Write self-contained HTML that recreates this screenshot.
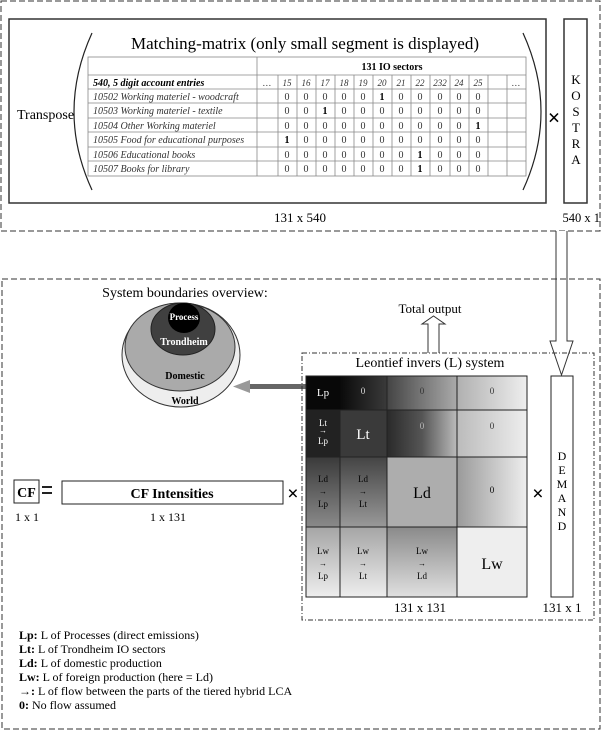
<!DOCTYPE html>
<html><head><meta charset="utf-8"><style>
body{margin:0;background:#fff}
svg text{font-family:"Liberation Serif",serif}
</style></head><body>
<svg width="602" height="732" viewBox="0 0 602 732" xmlns="http://www.w3.org/2000/svg">
<defs>
<linearGradient id="r0c1" x1="0" x2="1"><stop offset="0" stop-color="#0a0a0a"/><stop offset="1" stop-color="#3a3a3a"/></linearGradient>
<linearGradient id="r0c2" x1="0" x2="1"><stop offset="0" stop-color="#444"/><stop offset="1" stop-color="#aaa"/></linearGradient>
<linearGradient id="r0c3" x1="0" x2="1"><stop offset="0" stop-color="#b0b0b0"/><stop offset="1" stop-color="#eee"/></linearGradient>
<linearGradient id="r1c2" x1="0" x2="1"><stop offset="0" stop-color="#2a2a2a"/><stop offset="0.5" stop-color="#555"/><stop offset="1" stop-color="#bbb"/></linearGradient>
<linearGradient id="r1c3" x1="0" x2="1"><stop offset="0" stop-color="#bbb"/><stop offset="1" stop-color="#eee"/></linearGradient>
<linearGradient id="r2c0" x1="0" y1="0" x2="0" y2="1"><stop offset="0" stop-color="#3a3a3a"/><stop offset="1" stop-color="#8a8a8a"/></linearGradient>
<linearGradient id="r2c1" x1="0" y1="0" x2="0" y2="1"><stop offset="0" stop-color="#444"/><stop offset="1" stop-color="#999"/></linearGradient>
<linearGradient id="r2c3" x1="0" x2="1"><stop offset="0" stop-color="#9a9a9a"/><stop offset="1" stop-color="#eee"/></linearGradient>
<linearGradient id="r3c0" x1="0" y1="0" x2="0" y2="1"><stop offset="0" stop-color="#a5a5a5"/><stop offset="1" stop-color="#eee"/></linearGradient>
<linearGradient id="r3c2" x1="0" y1="0" x2="0" y2="1"><stop offset="0" stop-color="#8a8a8a"/><stop offset="1" stop-color="#e0e0e0"/></linearGradient>
</defs>

<rect x="1" y="1" width="599" height="230" fill="none" stroke="#333" stroke-dasharray="6,3"/>
<rect x="9" y="19" width="537" height="184" fill="none" stroke="#333" stroke-width="1.5"/>
<rect x="564" y="19" width="23" height="184" fill="none" stroke="#333" stroke-width="1.5"/>
<text x="305" y="49" font-size="17" text-anchor="middle">Matching-matrix (only small segment is displayed)</text>
<text x="17" y="119" font-size="14">Transpose</text>
<path d="M92,33 Q56,112 92,190" fill="none" stroke="#222" stroke-width="1.2"/>
<path d="M523,33 Q559,112 523,190" fill="none" stroke="#222" stroke-width="1.2"/>
<text x="554" y="125" font-size="22" text-anchor="middle" font-family="Liberation Sans" font-weight="bold">×</text>
<g font-size="13" text-anchor="middle">
<text x="576" y="84">K</text><text x="576" y="100">O</text><text x="576" y="116">S</text><text x="576" y="132">T</text><text x="576" y="148">R</text><text x="576" y="164">A</text>
</g>
<text x="300" y="222" font-size="13" text-anchor="middle">131 x 540</text>
<text x="600" y="222" font-size="12.5" text-anchor="end">540 x 1</text>

<g stroke="#888" stroke-width="0.8" fill="none">
<rect x="88" y="57" width="438" height="119"/>
<line x1="88" y1="75" x2="526" y2="75"/>
<line x1="88" y1="89" x2="526" y2="89"/>
<line x1="88" y1="103" x2="526" y2="103"/>
<line x1="88" y1="118" x2="526" y2="118"/>
<line x1="88" y1="132" x2="526" y2="132"/>
<line x1="88" y1="147" x2="526" y2="147"/>
<line x1="88" y1="161" x2="526" y2="161"/>
<line x1="257" y1="57" x2="257" y2="176"/>
<line x1="278" y1="75" x2="278" y2="176"/>
<line x1="297" y1="75" x2="297" y2="176"/>
<line x1="316" y1="75" x2="316" y2="176"/>
<line x1="335" y1="75" x2="335" y2="176"/>
<line x1="354" y1="75" x2="354" y2="176"/>
<line x1="373" y1="75" x2="373" y2="176"/>
<line x1="392" y1="75" x2="392" y2="176"/>
<line x1="411" y1="75" x2="411" y2="176"/>
<line x1="430" y1="75" x2="430" y2="176"/>
<line x1="450" y1="75" x2="450" y2="176"/>
<line x1="469" y1="75" x2="469" y2="176"/>
<line x1="488" y1="75" x2="488" y2="176"/>
<line x1="507" y1="75" x2="507" y2="176"/>
</g>
<text x="392" y="70" font-size="10" font-weight="bold" text-anchor="middle">131 IO sectors</text>
<g font-size="10" font-style="italic" fill="#333">
<text x="93" y="86" font-weight="bold" fill="#000">540, 5 digit account entries</text>
<text x="93" y="100">10502  Working materiel - woodcraft</text>
<text x="93" y="114">10503  Working materiel  - textile</text>
<text x="93" y="129">10504  Other Working materiel</text>
<text x="93" y="143">10505  Food for educational purposes</text>
<text x="93" y="158">10506  Educational books</text>
<text x="93" y="172">10507  Books for library</text>
</g>
<g font-size="9" font-style="italic" text-anchor="middle" fill="#333">
<text x="267" y="86">…</text><text x="287" y="86">15</text><text x="306" y="86">16</text><text x="325" y="86">17</text><text x="344" y="86">18</text><text x="363" y="86">19</text><text x="382" y="86">20</text><text x="401" y="86">21</text><text x="420" y="86">22</text><text x="440" y="86">232</text><text x="459" y="86">24</text><text x="478" y="86">25</text><text x="516" y="86">…</text>
</g>
<g font-size="10" text-anchor="middle" fill="#333">
<text x="287" y="100">0</text><text x="306" y="100">0</text><text x="325" y="100">0</text><text x="344" y="100">0</text><text x="363" y="100">0</text><text x="382" y="100" font-weight="bold" fill="#000">1</text><text x="401" y="100">0</text><text x="420" y="100">0</text><text x="440" y="100">0</text><text x="459" y="100">0</text><text x="478" y="100">0</text>
<text x="287" y="114">0</text><text x="306" y="114">0</text><text x="325" y="114" font-weight="bold" fill="#000">1</text><text x="344" y="114">0</text><text x="363" y="114">0</text><text x="382" y="114">0</text><text x="401" y="114">0</text><text x="420" y="114">0</text><text x="440" y="114">0</text><text x="459" y="114">0</text><text x="478" y="114">0</text>
<text x="287" y="129">0</text><text x="306" y="129">0</text><text x="325" y="129">0</text><text x="344" y="129">0</text><text x="363" y="129">0</text><text x="382" y="129">0</text><text x="401" y="129">0</text><text x="420" y="129">0</text><text x="440" y="129">0</text><text x="459" y="129">0</text><text x="478" y="129" font-weight="bold" fill="#000">1</text>
<text x="287" y="143" font-weight="bold" fill="#000">1</text><text x="306" y="143">0</text><text x="325" y="143">0</text><text x="344" y="143">0</text><text x="363" y="143">0</text><text x="382" y="143">0</text><text x="401" y="143">0</text><text x="420" y="143">0</text><text x="440" y="143">0</text><text x="459" y="143">0</text><text x="478" y="143">0</text>
<text x="287" y="158">0</text><text x="306" y="158">0</text><text x="325" y="158">0</text><text x="344" y="158">0</text><text x="363" y="158">0</text><text x="382" y="158">0</text><text x="401" y="158">0</text><text x="420" y="158" font-weight="bold" fill="#000">1</text><text x="440" y="158">0</text><text x="459" y="158">0</text><text x="478" y="158">0</text>
<text x="287" y="172">0</text><text x="306" y="172">0</text><text x="325" y="172">0</text><text x="344" y="172">0</text><text x="363" y="172">0</text><text x="382" y="172">0</text><text x="401" y="172">0</text><text x="420" y="172" font-weight="bold" fill="#000">1</text><text x="440" y="172">0</text><text x="459" y="172">0</text><text x="478" y="172">0</text>
</g>

<path d="M556,231 L556,341 L550,341 L561.5,375 L573,341 L567,341 L567,231" fill="#fff" stroke="#333" stroke-width="1"/>

<rect x="2" y="279" width="598" height="450" fill="none" stroke="#333" stroke-dasharray="6,3"/>
<text x="185" y="297" font-size="14" text-anchor="middle">System boundaries overview:</text>
<ellipse cx="181" cy="355" rx="59" ry="52" fill="#eee" stroke="#333"/>
<ellipse cx="180" cy="347" rx="55" ry="44" fill="#aaa" stroke="#333"/>
<ellipse cx="183" cy="329" rx="32" ry="26" fill="#404040" stroke="#222"/>
<ellipse cx="184" cy="318" rx="16" ry="15" fill="#000"/>
<g font-size="9" font-weight="bold" text-anchor="middle">
<text x="184" y="320" fill="#fff">Process</text>
<text x="184" y="345" fill="#fff" font-size="10">Trondheim</text>
<text x="185" y="379" font-size="10">Domestic</text>
<text x="185" y="404" font-size="10">World</text>
</g>
<rect x="246" y="384" width="62" height="5" fill="#666"/>
<path d="M233,386.5 L250,380 L250,393 Z" fill="#999"/>

<text x="430" y="313" font-size="13" text-anchor="middle">Total output</text>
<path d="M428,353 L428,324 L422,324 L433.5,316 L445,324 L439,324 L439,353" fill="#fff" stroke="#333"/>

<rect x="302" y="353" width="292" height="267" fill="none" stroke="#333" stroke-dasharray="5,2,1,2"/>
<text x="430" y="367" font-size="14" text-anchor="middle">Leontief invers (L) system</text>
<rect x="306" y="376" width="34" height="34" fill="#080808"/>
<rect x="340" y="376" width="47" height="34" fill="url(#r0c1)"/>
<rect x="387" y="376" width="70" height="34" fill="url(#r0c2)"/>
<rect x="457" y="376" width="70" height="34" fill="url(#r0c3)"/>
<rect x="306" y="410" width="34" height="47" fill="#222"/>
<rect x="340" y="410" width="47" height="47" fill="#3a3a3a"/>
<rect x="387" y="410" width="70" height="47" fill="url(#r1c2)"/>
<rect x="457" y="410" width="70" height="47" fill="url(#r1c3)"/>
<rect x="306" y="457" width="34" height="70" fill="url(#r2c0)"/>
<rect x="340" y="457" width="47" height="70" fill="url(#r2c1)"/>
<rect x="387" y="457" width="70" height="70" fill="#adadad"/>
<rect x="457" y="457" width="70" height="70" fill="url(#r2c3)"/>
<rect x="306" y="527" width="34" height="70" fill="url(#r3c0)"/>
<rect x="340" y="527" width="47" height="70" fill="url(#r3c0)"/>
<rect x="387" y="527" width="70" height="70" fill="url(#r3c2)"/>
<rect x="457" y="527" width="70" height="70" fill="#eee"/>
<g stroke="#222" stroke-width="1" fill="none">
<rect x="306" y="376" width="221" height="221"/>
<line x1="340" y1="410" x2="340" y2="597"/>
<line x1="387" y1="376" x2="387" y2="597"/>
<line x1="457" y1="376" x2="457" y2="597"/>
<line x1="306" y1="410" x2="527" y2="410"/>
<line x1="306" y1="457" x2="527" y2="457"/>
<line x1="306" y1="527" x2="527" y2="527"/>
</g>
<g text-anchor="middle">
<text x="323" y="396" font-size="11" fill="#fff">Lp</text>
<text x="363" y="394" font-size="9" fill="#ddd">0</text>
<text x="422" y="394" font-size="9" fill="#333">0</text>
<text x="492" y="394" font-size="9" fill="#333">0</text>
<text x="323" y="426" font-size="9" fill="#fff">Lt</text><text x="323" y="433" font-size="8" fill="#fff">→</text><text x="323" y="444" font-size="9" fill="#fff">Lp</text>
<text x="363" y="439" font-size="15" fill="#fff">Lt</text>
<text x="422" y="429" font-size="9" fill="#bbb">0</text>
<text x="492" y="429" font-size="9" fill="#333">0</text>
<text x="323" y="482" font-size="9">Ld</text><text x="323" y="494" font-size="8">→</text><text x="323" y="507" font-size="9">Lp</text>
<text x="363" y="482" font-size="9">Ld</text><text x="363" y="494" font-size="8">→</text><text x="363" y="507" font-size="9">Lt</text>
<text x="422" y="498" font-size="16">Ld</text>
<text x="492" y="493" font-size="9">0</text>
<text x="323" y="554" font-size="9">Lw</text><text x="323" y="566" font-size="8">→</text><text x="323" y="579" font-size="9">Lp</text>
<text x="363" y="554" font-size="9">Lw</text><text x="363" y="566" font-size="8">→</text><text x="363" y="579" font-size="9">Lt</text>
<text x="422" y="554" font-size="9">Lw</text><text x="422" y="566" font-size="8">→</text><text x="422" y="579" font-size="9">Ld</text>
<text x="492" y="569" font-size="16">Lw</text>
</g>
<rect x="551" y="376" width="22" height="221" fill="#fff" stroke="#222"/>
<g font-size="12" text-anchor="middle">
<text x="562" y="460">D</text><text x="562" y="474">E</text><text x="562" y="488">M</text><text x="562" y="502">A</text><text x="562" y="516">N</text><text x="562" y="530">D</text>
</g>
<text x="538" y="500" font-size="20" text-anchor="middle" font-family="Liberation Sans" font-weight="bold">×</text>
<text x="420" y="612" font-size="13" text-anchor="middle">131 x 131</text>
<text x="562" y="612" font-size="13" text-anchor="middle">131 x 1</text>

<rect x="14" y="480" width="25" height="23" fill="none" stroke="#222"/>
<text x="26.5" y="497" font-size="14" font-weight="bold" text-anchor="middle">CF</text>
<rect x="42" y="486" width="10" height="2" fill="#222"/><rect x="42" y="492" width="10" height="2" fill="#222"/>
<rect x="62" y="481" width="221" height="23" fill="none" stroke="#222"/>
<text x="172" y="498" font-size="14" font-weight="bold" text-anchor="middle">CF Intensities</text>
<text x="293" y="500" font-size="20" text-anchor="middle" font-family="Liberation Sans" font-weight="bold">×</text>
<text x="27" y="521" font-size="12" text-anchor="middle">1 x 1</text>
<text x="168" y="521" font-size="12" text-anchor="middle">1 x 131</text>

<g font-size="12">
<text x="19" y="639"><tspan font-weight="bold">Lp:</tspan> L of Processes (direct emissions)</text>
<text x="19" y="653"><tspan font-weight="bold">Lt:</tspan> L of Trondheim IO sectors</text>
<text x="19" y="667"><tspan font-weight="bold">Ld:</tspan> L of domestic production</text>
<text x="19" y="681"><tspan font-weight="bold">Lw:</tspan> L of foreign production (here = Ld)</text>
<text x="19" y="695"><tspan font-weight="bold">→:</tspan> L of flow between the parts of the tiered hybrid LCA</text>
<text x="19" y="709"><tspan font-weight="bold">0:</tspan> No flow assumed</text>
</g>
</svg>
</body></html>
